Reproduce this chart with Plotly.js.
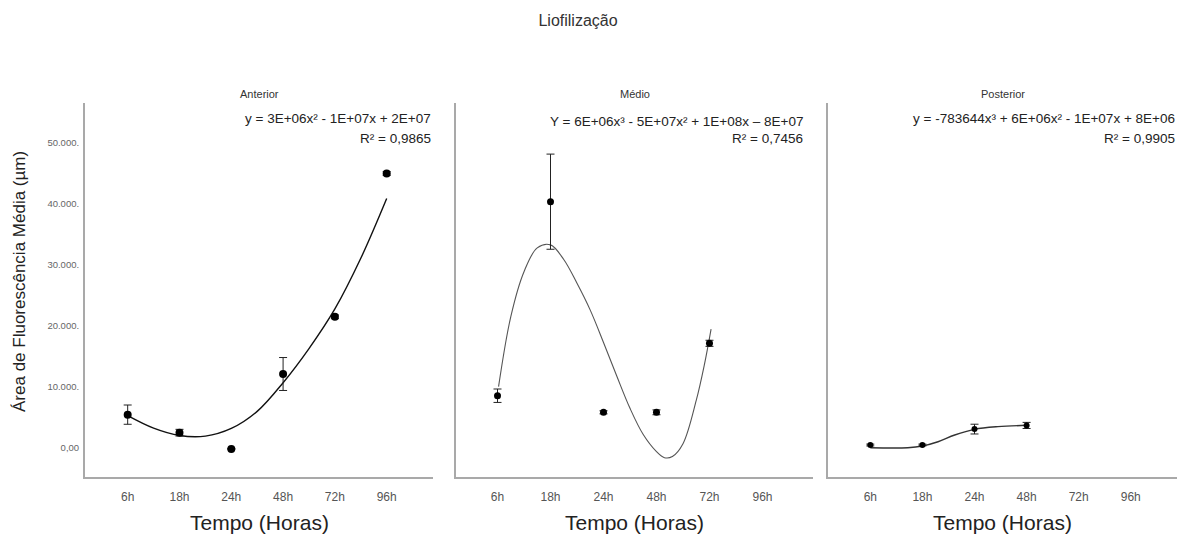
<!DOCTYPE html>
<html>
<head>
<meta charset="utf-8">
<script src="https://cdn.plot.ly/plotly-3.0.1.min.js"></script>
<style>html,body{margin:0;padding:0;background:#fff;}#chart{width:1180px;height:539px;}</style>
</head>
<body>
<div id="chart"></div>
<script>
// ---- data ----
const categories = ['6h', '18h', '24h', '48h', '72h', '96h'];
const yTickVals = [0, 10000, 20000, 30000, 40000, 50000];
const yTickText = ['0,00', '10.000.', '20.000.', '30.000.', '40.000.', '50.000.'];

const panelTitles = ['Anterior', 'Médio', 'Posterior'];
const eqLine1 = ['y = 3E+06x² - 1E+07x + 2E+07',
                 'Y = 6E+06x³ - 5E+07x² + 1E+08x – 8E+07',
                 'y = -783644x³ + 6E+06x² - 1E+07x + 8E+06'];
const eqLine2 = ['R² = 0,9865', 'R² = 0,7456', 'R² = 0,9905'];

// Anterior
const anteriorMean = [5470, 2510, -150, 12130, 21500, 45000];
const anteriorErr  = [1580, 550, 0, 2700, 300, 300];
const anteriorFitX = [0, 0.5, 1, 1.5, 2, 2.5, 3, 3.5, 4, 4.5, 5];
const anteriorFitY = [5300, 3250, 2050, 1950, 3200, 6000, 10700, 16300, 22800, 31100, 40900];

// Médio
const medioMean = [8570, 40380, 5850, 5850, 17160];
const medioErr  = [1100, 7800, 250, 400, 500];
const medioFitX = [0.02, 0.25, 0.5, 0.75, 1.0, 1.25, 1.5, 1.75, 2.0, 2.25, 2.5, 2.75, 3.0, 3.15, 3.3, 3.5, 3.75, 3.9, 4.03];
const medioFitY = [10050, 21500, 28900, 32800, 33300, 30900, 27000, 22600, 17300, 11800, 6500, 2200, -600, -1590, -1400, 700, 7800, 13500, 19500];

// Posterior
const posteriorMean = [490, 490, 3100, 3700];
const posteriorErr  = [150, 150, 800, 500];
const posteriorFitX = [0, 0.72, 1, 1.3, 1.62, 2, 2.45, 3];
const posteriorFitY = [50, 50, 330, 1030, 2130, 3060, 3500, 3720];

// ---- layout helpers ----
const W = 1180, H = 539;
const plotTop = 103, plotBottom = 477;
const panels = [
  {x0: 85,  x1: 433,  range: [-0.824, 5.894], eqRight: 433, eqY1: 119, eqY2: 138},
  {x0: 456, x1: 813,  range: [-0.783, 5.953], eqRight: 805, eqY1: 121, eqY2: 139},
  {x0: 828, x1: 1177, range: [-0.812, 5.887], eqRight: 1177, eqY1: 119, eqY2: 138}
];
const px = v => v / W;
const py = v => 1 - v / H;

function idx(arr) { return arr.map((_, i) => i); }

const means = [anteriorMean, medioMean, posteriorMean];
const errs = [anteriorErr, medioErr, posteriorErr];
const fitXs = [anteriorFitX, medioFitX, posteriorFitX];
const fitYs = [anteriorFitY, medioFitY, posteriorFitY];
const fitColors = ['#111', '#555', '#333'];
const fitWidths = [1.4, 1.1, 1.4];
const markerSizes = [8, 7, 6];

const traces = [];
const layout = {
  width: W, height: H,
  margin: {l: 0, r: 0, t: 0, b: 0},
  paper_bgcolor: '#fff', plot_bgcolor: '#fff',
  showlegend: false,
  font: {family: 'Liberation Sans, Arial, sans-serif', color: '#333'},
  annotations: [],
  title: {text: 'Liofilização', x: 578 / W, xanchor: 'center', y: py(20), yanchor: 'middle',
          font: {family: 'Liberation Sans, Arial, sans-serif', size: 16, color: '#333'}}
};

panels.forEach((p, i) => {
  const n = i + 1;
  const xa = n === 1 ? 'x' : 'x' + n;
  const ya = n === 1 ? 'y' : 'y' + n;
  traces.push({
    x: fitXs[i], y: fitYs[i], xaxis: xa, yaxis: ya,
    type: 'scatter', mode: 'lines',
    line: {color: fitColors[i], width: fitWidths[i], shape: 'spline', smoothing: 1},
    hoverinfo: 'skip'
  });
  traces.push({
    x: idx(means[i]), y: means[i], xaxis: xa, yaxis: ya,
    type: 'scatter', mode: 'markers',
    marker: {color: '#000', size: markerSizes[i], symbol: 'circle'},
    error_y: {type: 'data', array: errs[i], visible: true, color: '#222', thickness: 1, width: 4}
  });
  layout['xaxis' + (n === 1 ? '' : n)] = {
    domain: [px(p.x0), px(p.x1)], range: p.range, anchor: ya,
    tickmode: 'array', tickvals: idx(categories), ticktext: categories,
    tickfont: {family: 'Liberation Sans, Arial, sans-serif', size: 12, color: '#555'},
    ticks: '', ticklabelstandoff: 8,
    showgrid: false, zeroline: false, showline: true, linecolor: '#a9a9a9', linewidth: 2,
    fixedrange: true
  };
  layout['yaxis' + (n === 1 ? '' : n)] = {
    domain: [py(plotBottom), py(plotTop)], range: [-4754, 56557], anchor: xa,
    tickmode: 'array', tickvals: yTickVals, ticktext: yTickText,
    showticklabels: n === 1,
    tickfont: {family: 'Liberation Sans, Arial, sans-serif', size: 9.5, color: '#666'},
    ticks: '', ticklabelstandoff: 2,
    showgrid: false, zeroline: false, showline: true, linecolor: '#a9a9a9', linewidth: 2,
    fixedrange: true
  };
  const cx = (p.x0 + p.x1) / 2;
  layout.annotations.push({
    text: panelTitles[i], xref: 'paper', yref: 'paper', x: px(cx), y: py(94),
    xanchor: 'center', yanchor: 'middle', showarrow: false,
    font: {family: 'Liberation Sans, Arial, sans-serif', size: 11, color: '#333'}
  });
  layout.annotations.push({
    text: eqLine1[i], xref: 'paper', yref: 'paper', x: px(p.eqRight), y: py(p.eqY1),
    xanchor: 'right', yanchor: 'middle', showarrow: false,
    font: {family: 'Liberation Sans, Arial, sans-serif', size: 13.5, color: '#222'}
  });
  layout.annotations.push({
    text: eqLine2[i], xref: 'paper', yref: 'paper', x: px(p.eqRight), y: py(p.eqY2),
    xanchor: 'right', yanchor: 'middle', showarrow: false,
    font: {family: 'Liberation Sans, Arial, sans-serif', size: 13.5, color: '#222'}
  });
  layout.annotations.push({
    text: 'Tempo (Horas)', xref: 'paper', yref: 'paper', x: px(cx), y: py(522),
    xanchor: 'center', yanchor: 'middle', showarrow: false,
    font: {family: 'Liberation Sans, Arial, sans-serif', size: 21, color: '#222'}
  });
});

layout.annotations.push({
  text: 'Área de Fluorescência Média (µm)', xref: 'paper', yref: 'paper',
  x: px(19), y: py(282), xanchor: 'center', yanchor: 'middle', textangle: -90, showarrow: false,
  font: {family: 'Liberation Sans, Arial, sans-serif', size: 17, color: '#222'}
});

Plotly.newPlot('chart', traces, layout, {displayModeBar: false, staticPlot: true});
</script>
</body>
</html>
